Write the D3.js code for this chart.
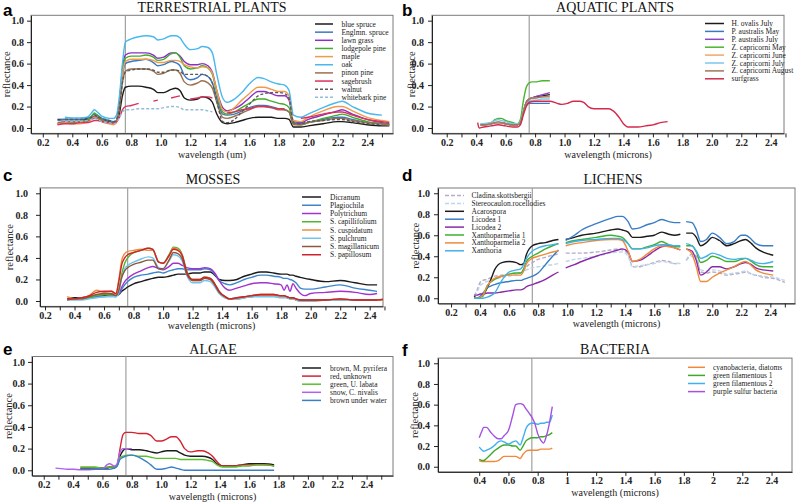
<!DOCTYPE html>
<html><head><meta charset="utf-8">
<script src="https://cdn.jsdelivr.net/npm/d3@7"></script>
<style>body{margin:0;background:#fff}svg{display:block}</style>
</head><body><svg id="chart" width="800" height="503"></svg>
<script>
// ---------------- shared ticks ----------------
const yTicks = [0, 0.2, 0.4, 0.6, 0.8, 1.0];
const xTickLabels = [0.2,0.4,0.6,0.8,1.0,1.2,1.4,1.6,1.8,2.0,2.2,2.4];
const xMinorTicks = [0.2,0.3,0.4,0.5,0.6,0.7,0.8,0.9,1.0,1.1,1.2,1.3,1.4,1.5,1.6,1.7,1.8,1.9,2.0,2.1,2.2,2.3,2.4,2.5];
const bacteriaTickLabels = [0.4,0.6,0.8,1,1.2,1.4,1.6,1.8,2,2.2,2.4];
const redEdge = 0.76;

// ---------------- a: terrestrial plants ----------------
const terrestrialNames = ["blue spruce","Englmn. spruce","lawn grass","lodgepole pine","maple","oak","pinon pine","sagebrush","walnut","whitebark pine"];
const terrestrialWl = [0.3,0.35,0.4,0.45,0.5,0.53,0.55,0.57,0.6,0.65,0.68,0.7,0.72,0.74,0.76,0.8,0.85,0.9,0.95,0.98,1.02,1.07,1.1,1.13,1.16,1.2,1.25,1.28,1.32,1.35,1.38,1.42,1.45,1.5,1.55,1.6,1.66,1.7,1.75,1.8,1.84,1.87,1.9,1.95,2.0,2.1,2.2,2.23,2.3,2.4,2.5,2.55];
const blueSpruce = [0.08,0.08,0.08,0.08,0.08,0.09,0.1,0.1,0.08,0.06,0.05,0.06,0.14,0.3,0.38,0.39,0.39,0.38,0.36,0.33,0.33,0.36,0.37,0.35,0.28,0.26,0.27,0.29,0.28,0.24,0.13,0.05,0.04,0.05,0.07,0.09,0.1,0.1,0.1,0.09,0.09,0.08,0.01,0.01,0.02,0.04,0.06,0.06,0.05,0.03,0.02,0.02];
const englmnSpruce = [0.07,0.08,0.08,0.08,0.09,0.11,0.13,0.12,0.09,0.07,0.06,0.07,0.22,0.48,0.6,0.62,0.63,0.64,0.61,0.58,0.59,0.62,0.61,0.58,0.49,0.45,0.47,0.5,0.48,0.42,0.28,0.13,0.12,0.13,0.16,0.19,0.21,0.21,0.2,0.18,0.17,0.15,0.04,0.04,0.05,0.08,0.1,0.1,0.08,0.05,0.04,0.03];
const lawnGrass = [0.04,0.05,0.05,0.05,0.06,0.09,0.11,0.1,0.07,0.05,0.04,0.06,0.25,0.55,0.68,0.7,0.7,0.7,0.68,0.65,0.66,0.7,0.7,0.67,0.62,0.59,0.59,0.6,0.58,0.52,0.35,0.19,0.16,0.18,0.22,0.28,0.34,0.34,0.32,0.3,0.3,0.26,0.06,0.05,0.08,0.12,0.16,0.17,0.13,0.08,0.05,0.04];
const lodgepolePine = [0.04,0.05,0.05,0.06,0.07,0.11,0.14,0.12,0.08,0.05,0.04,0.06,0.25,0.52,0.65,0.67,0.67,0.68,0.66,0.63,0.64,0.69,0.7,0.66,0.58,0.55,0.56,0.58,0.56,0.5,0.33,0.15,0.13,0.15,0.19,0.23,0.27,0.27,0.25,0.23,0.22,0.19,0.04,0.03,0.05,0.09,0.12,0.13,0.1,0.06,0.04,0.03];
const maple = [0.04,0.05,0.04,0.04,0.05,0.08,0.1,0.09,0.06,0.04,0.03,0.05,0.25,0.5,0.62,0.64,0.64,0.64,0.63,0.61,0.61,0.63,0.63,0.62,0.59,0.57,0.56,0.57,0.56,0.51,0.35,0.17,0.15,0.19,0.26,0.32,0.38,0.38,0.36,0.34,0.34,0.3,0.07,0.06,0.1,0.16,0.2,0.2,0.16,0.1,0.07,0.06];
const oak = [null,0.1,0.095,0.095,0.1,0.14,0.17,0.15,0.11,0.09,0.09,0.12,0.3,0.6,0.8,0.83,0.85,0.86,0.85,0.82,0.83,0.86,0.86,0.84,0.78,0.73,0.74,0.76,0.75,0.7,0.5,0.28,0.24,0.27,0.33,0.41,0.47,0.46,0.43,0.41,0.4,0.35,0.12,0.1,0.13,0.19,0.24,0.25,0.2,0.14,0.12,null];
const pinonPine = [0.05,0.06,0.06,0.06,0.07,0.08,0.09,0.09,0.07,0.05,0.05,0.06,0.18,0.42,0.53,0.55,0.55,0.55,0.53,0.5,0.51,0.54,0.54,0.51,0.43,0.4,0.42,0.44,0.42,0.37,0.24,0.1,0.09,0.11,0.14,0.17,0.2,0.2,0.19,0.17,0.17,0.15,0.03,0.03,0.05,0.07,0.09,0.09,0.07,0.05,0.04,0.03];
const sagebrush = [0.03,0.04,0.04,0.05,0.05,0.06,0.07,0.07,0.06,0.05,0.05,0.06,0.1,0.17,0.2,0.21,0.23,null,0.25,0.26,null,0.28,0.29,0.3,null,0.27,0.28,0.29,0.29,0.28,null,null,0.14,0.15,0.17,0.18,0.2,0.2,0.19,0.18,0.18,null,null,0.09,0.1,0.13,0.15,0.15,0.12,0.08,0.06,0.05];
const walnut = [null,0.08,0.08,0.08,0.09,0.1,0.12,0.11,0.09,0.07,0.06,0.08,0.2,0.42,0.52,0.54,0.55,0.55,0.54,0.52,0.52,0.54,0.54,0.53,0.5,0.5,0.5,0.5,0.48,0.42,0.25,0.06,0.05,0.08,0.15,0.22,0.3,0.32,0.33,0.33,0.32,0.28,0.05,0.04,0.06,0.07,0.08,0.08,0.06,0.04,0.03,null];
const whitebarkPine = [null,0.06,0.06,0.06,0.07,0.08,0.09,0.08,0.06,0.05,0.04,0.05,0.1,0.15,0.17,0.17,0.18,0.18,0.18,0.18,0.19,0.2,0.2,0.19,0.17,0.17,0.17,0.17,0.16,0.15];
const terrestrialColors = ["#1b1b1b","#3a78c2","#8f2fc4","#42ad2c","#f09a4c","#49b8ef","#9c6f4e","#d8325c","#5a5a5a","#94bcd8"];
const terrestrialDash = [null,null,null,null,null,null,null,null,"3,2","3,2"];

// ---------------- b: aquatic plants ----------------
const aquaticNames = ["H. ovalis July","P. australis May","P. australis July","Z. capricorni May","Z. capricorni June","Z. capricorni July","Z. capricorni August","surfgrass"];
const aquaticWl = [0.43,0.45,0.5,0.53,0.55,0.57,0.6,0.65,0.68,0.7,0.72,0.74,0.76,0.78,0.8,0.85,0.9];
const hOvalisJuly = [0.03,0.03,0.04,0.05,0.05,0.05,0.04,0.03,0.03,0.05,0.15,0.24,0.27,0.28,0.29,0.3,0.31];
const pAustralisMay = [0.03,0.03,0.04,0.05,0.05,0.05,0.04,0.03,0.03,0.05,0.14,0.21,0.23,0.23,0.23,0.23,0.23];
const pAustralisJuly = [0.03,0.03,0.04,0.05,0.05,0.05,0.04,0.03,0.03,0.05,0.15,0.24,0.27,0.28,0.29,0.31,0.33];
const zCapMay = [0.04,0.04,0.05,0.08,0.09,0.09,0.07,0.05,0.04,0.08,0.25,0.38,0.42,0.43,0.43,0.44,0.44];
const zCapJune = [0.03,0.03,0.04,0.05,0.05,0.05,0.04,0.03,0.03,0.05,0.15,0.24,0.27,0.28,0.28,0.29,0.3];
const zCapJuly = [0.04,0.04,0.05,0.07,0.08,0.07,0.06,0.04,0.04,0.06,0.16,0.23,0.25,0.26,0.26,0.27,0.27];
const zCapAugust = [0.03,0.03,0.04,0.05,0.06,0.05,0.04,0.03,0.03,0.05,0.15,0.24,0.27,0.28,0.28,0.29,0.29];
const surfgrassWl = [0.41,0.42,0.45,0.5,0.55,0.6,0.65,0.68,0.7,0.72,0.74,0.76,0.8,0.85,0.9,0.95,0.98,1.02,1.06,1.1,1.13,1.16,1.2,1.25,1.3,1.33,1.37,1.4,1.43,1.5,1.55,1.6,1.65,1.7];
const surfgrass = [0.05,0.0,0.01,0.02,0.03,0.02,0.01,0.01,0.03,0.12,0.2,0.24,0.25,0.25,0.25,0.23,0.22,0.23,0.25,0.25,0.24,0.2,0.18,0.18,0.18,0.16,0.1,0.04,0.01,0.01,0.02,0.03,0.05,0.06];
const aquaticColors = ["#1b1b1b","#3a78c2","#8f44c6","#4cb52e","#f0a868","#7cc6ee","#9e7858","#d42a4c"];

// ---------------- c: mosses ----------------
const mossNames = ["Dicranum","Plagiochila","Polytrichum","S. capillifolium","S. cuspidatum","S. pulchrum","S. magillanicum","S. papillosum"];
const mossWl = [0.35,0.4,0.45,0.5,0.55,0.6,0.65,0.68,0.7,0.72,0.74,0.76,0.8,0.85,0.9,0.93,0.97,1.0,1.04,1.07,1.1,1.13,1.16,1.2,1.25,1.28,1.32,1.35,1.38,1.42,1.45,1.5,1.55,1.6,1.66,1.7,1.75,1.8,1.82,1.84,1.86,1.88,1.9,1.93,1.96,2.0,2.1,2.2,2.3,2.4,2.45,2.5];
const dicranum = [0.02,0.03,0.03,0.04,0.04,0.05,0.05,0.05,0.06,0.09,0.11,0.13,0.16,0.18,0.2,0.21,0.22,0.22,0.23,0.24,0.25,0.25,0.25,0.26,0.26,0.27,0.27,0.24,0.2,0.19,0.19,0.2,0.23,0.25,0.27,0.27,0.26,0.25,0.25,0.25,0.24,0.24,0.23,0.22,0.21,0.2,0.18,0.19,0.17,0.15,0.15,null];
const plagiochila = [0.01,0.02,0.02,0.03,0.04,0.04,0.05,0.05,0.06,0.11,0.15,0.18,0.22,0.24,0.25,0.26,0.27,0.26,0.28,0.29,0.3,0.3,0.29,0.29,0.29,0.3,0.29,0.25,0.19,0.16,0.15,0.17,0.2,0.22,0.24,0.24,0.23,0.22,0.21,0.21,0.2,0.19,0.17,0.12,0.11,0.11,0.13,0.15,0.12,0.1,0.09,null];
const polytrichum = [0.02,0.02,0.03,0.04,0.05,0.06,0.06,0.05,0.07,0.13,0.18,0.21,0.25,0.28,0.31,0.32,0.3,0.29,0.32,0.35,0.35,0.33,0.31,0.3,0.3,0.31,0.3,0.26,0.19,0.12,0.1,0.12,0.14,0.16,0.17,0.17,0.16,0.15,0.1,0.15,0.09,0.16,0.12,0.07,0.05,0.07,0.08,0.09,0.08,0.06,0.07,null];
const sCapillifolium = [0.01,0.02,0.02,0.03,0.05,0.06,0.05,0.04,0.1,0.25,0.35,0.4,0.45,0.47,0.49,0.48,0.36,0.35,0.43,0.5,0.49,0.43,0.28,0.2,0.2,0.22,0.21,0.16,0.09,0.04,0.02,0.02,0.03,0.04,0.05,0.05,0.05,0.04,0.04,0.03,0.02,0.02,0.01,0.01,0.0,0.0,0.01,0.01,0.01,0.01,0.01,0.01];
const sCuspidatum = [0.04,0.02,0.03,0.05,0.1,0.08,0.09,0.06,0.2,0.38,0.44,0.46,0.47,0.48,0.47,0.47,0.36,0.35,0.42,0.49,0.48,0.42,0.26,0.19,0.19,0.21,0.2,0.15,0.08,0.03,0.02,0.02,0.03,0.04,0.05,0.05,0.05,0.04,0.04,0.03,0.02,0.02,0.01,0.0,0.0,0.0,0.01,0.01,0.01,0.01,0.01,0.01];
const sPulchrum = [0.01,0.01,0.01,0.02,0.03,0.04,0.04,0.04,0.08,0.22,0.3,0.33,0.36,0.39,0.41,0.4,0.31,0.3,0.37,0.43,0.42,0.37,0.24,0.17,0.17,0.19,0.18,0.13,0.07,0.03,0.02,0.02,0.03,0.04,0.04,0.04,0.04,0.03,0.03,0.03,0.02,0.02,0.01,0.0,0.0,0.0,0.01,0.01,0.01,0.01,0.01,null];
const sMagillanicum = [0.01,0.02,0.02,0.04,0.06,0.07,0.07,0.05,0.1,0.22,0.28,0.31,0.34,0.36,0.38,0.38,0.3,0.3,0.38,0.45,0.44,0.39,0.25,0.19,0.19,0.21,0.2,0.15,0.08,0.04,0.02,0.03,0.04,0.05,0.06,0.06,0.06,0.05,0.05,0.04,0.03,0.03,0.02,0.01,0.01,0.01,0.01,0.02,0.01,0.01,0.01,null];
const sPapillosum = [0.02,0.02,0.03,0.05,0.08,0.09,0.09,0.07,0.18,0.34,0.4,0.43,0.45,0.47,0.49,0.48,0.36,0.35,0.42,0.48,0.47,0.42,0.27,0.2,0.2,0.22,0.21,0.16,0.09,0.04,0.02,0.03,0.04,0.05,0.06,0.06,0.06,0.05,0.05,0.04,0.03,0.03,0.02,0.01,0.01,0.01,0.01,0.02,0.01,0.01,0.01,0.02];
const mossColors = ["#1b1b1b","#3d86cc","#a333cf","#4db82e","#f08c3c","#72c4ef","#8a5a3a","#d0222c"];

// ---------------- d: lichens ----------------
const lichenNames = ["Cladina.skottsbergii","Stereocaulon.rocellodies","Acarospora","Licodea 1","Licodea 2","Xanthoparmelia 1","Xanthoparmelia 2","Xanthoria"];
const lichenWl = [0.36,0.38,0.4,0.42,0.45,0.48,0.5,0.55,0.6,0.65,0.68,0.7,0.72,0.76,0.8,0.85,0.9,0.94,0.96,0.99,1.05,1.1,1.2,1.3,1.35,1.38,1.42,1.45,1.5,1.55,1.6,1.65,1.7,1.74,1.78,1.8,1.82,1.86,1.89,1.92,1.96,2.0,2.05,2.1,2.15,2.2,2.23,2.27,2.3,2.35,2.42,2.5];
const cladina = [0.02,0.08,0.15,0.17,0.18,0.2,0.21,0.22,0.23,0.24,0.24,0.26,0.3,0.34,0.37,0.39,0.41,0.42,null,0.43,0.43,0.43,0.44,0.46,0.47,0.46,0.42,0.3,0.3,0.32,0.34,0.36,0.35,0.33,0.33,null,0.36,0.42,0.4,0.25,0.24,0.25,0.24,0.22,0.23,0.24,0.25,0.23,0.22,0.2,0.19,0.15];
const stereocaulon = [0.02,0.06,0.12,0.14,0.16,0.17,0.18,0.2,0.21,0.23,0.24,0.25,0.27,0.29,0.3,0.31,0.32,0.33,null,0.35,0.37,0.38,0.4,0.43,0.44,0.44,0.4,0.3,0.31,0.32,0.33,0.35,0.34,0.33,0.34,null,0.36,0.4,0.38,0.27,0.26,0.27,0.26,0.23,0.24,0.25,0.26,0.23,0.22,0.21,0.2,0.17];
const acarospora = [0.02,0.0,0.01,0.03,0.1,0.2,0.27,0.34,0.35,0.34,0.32,0.33,0.42,0.5,0.52,0.53,0.55,0.56,null,0.56,0.58,0.6,0.62,0.65,0.66,0.65,0.63,0.58,0.58,0.59,0.6,0.63,0.61,0.6,0.61,null,0.62,0.62,0.58,0.5,0.53,0.58,0.55,0.5,0.52,0.55,0.56,0.52,0.48,0.44,0.41,null];
const licodea1 = [0.01,0.0,0.02,0.05,0.1,0.12,0.13,0.15,0.16,0.17,0.17,0.18,0.19,0.21,0.24,0.32,0.4,0.46,null,0.55,0.6,0.65,0.71,0.76,0.78,0.78,0.73,0.66,0.67,0.7,0.72,0.75,0.73,0.72,0.72,null,0.73,0.72,0.65,0.54,0.56,0.62,0.58,0.52,0.54,0.6,0.6,0.56,0.52,0.5,0.5,null];
const licodea2 = [0.03,0.03,0.04,0.04,0.05,0.05,0.05,0.06,0.07,0.08,0.08,0.09,0.11,0.13,0.15,0.18,0.22,0.25,null,0.29,0.32,0.35,0.4,0.44,0.46,0.47,0.44,0.35,0.36,0.4,0.45,0.49,0.5,0.48,0.46,null,0.47,0.45,0.36,0.22,0.25,0.3,0.3,0.28,0.3,0.33,0.34,0.32,0.29,0.27,0.26,null];
const xanthoparmelia1 = [0.0,0.0,0.01,0.02,0.12,0.16,0.18,0.21,0.23,0.24,0.24,0.28,0.35,0.4,0.43,0.47,0.5,0.52,null,0.53,0.55,0.56,0.58,0.6,0.59,0.58,0.52,0.47,0.47,0.49,0.51,0.54,0.51,0.49,0.49,null,0.5,0.5,0.44,0.34,0.36,0.4,0.38,0.35,0.35,0.37,0.38,0.35,0.32,0.3,0.3,null];
const xanthoparmelia2 = [0.0,0.0,0.01,0.03,0.12,0.17,0.19,0.21,0.22,0.22,0.22,0.26,0.33,0.38,0.4,0.42,0.44,0.45,null,0.5,0.52,0.53,0.55,0.56,0.56,0.55,0.45,0.35,0.37,0.42,0.47,0.5,0.49,0.48,0.46,null,0.47,0.42,0.3,0.16,0.16,0.2,0.24,0.27,0.3,0.34,0.35,0.31,0.27,0.24,0.22,null];
const xanthoria = [0.0,0.0,0.0,0.0,0.01,0.03,0.05,0.17,0.25,0.27,0.28,0.32,0.38,0.45,0.48,0.5,0.51,0.52,null,0.52,0.54,0.55,0.56,0.57,0.57,0.56,0.52,0.47,0.47,0.48,0.5,0.51,0.51,0.5,0.5,null,0.52,0.5,0.45,0.38,0.4,0.43,0.41,0.38,0.37,0.38,0.38,0.36,0.34,0.33,0.35,null];
const lichenColors = ["#b8aac8","#bcd6ea","#1b1b1b","#3a7dc6","#8a2aa8","#3eb032","#f08a3c","#42b0e8"];
const lichenDash = ["4,2","4,2",null,null,null,null,null,null];

// ---------------- e: algae ----------------
const algaeNames = ["brown, M. pyrifera","red, unknown","green, U. labata","snow, C. nivalis","brown under water"];
const algaeWl = [0.28,0.32,0.36,0.4,0.45,0.5,0.55,0.6,0.63,0.65,0.68,0.7,0.72,0.74,0.76,0.8,0.85,0.9,0.93,0.97,1.0,1.04,1.07,1.1,1.13,1.16,1.2,1.25,1.28,1.32,1.35,1.38,1.42,1.45,1.5,1.55,1.6,1.65,1.7,1.77];
const brownPyrifera = [null,null,null,null,0.02,0.02,0.02,0.02,0.02,0.03,0.02,0.04,0.13,0.18,0.2,0.19,0.19,0.18,0.17,0.16,0.17,0.18,0.18,0.18,0.16,0.14,0.13,0.13,0.13,0.12,0.1,0.06,0.04,0.04,0.04,0.05,0.06,0.06,0.06,0.05];
const redUnknown = [null,null,null,null,0.02,0.02,0.02,0.02,0.02,0.03,0.03,0.05,0.2,0.33,0.35,0.35,0.34,0.34,0.32,0.27,0.27,0.29,0.31,0.31,0.27,0.2,0.17,0.18,0.18,0.16,0.13,0.08,0.04,0.04,0.04,0.05,0.05,0.05,0.05,0.04];
const greenLabata = [null,null,null,null,0.03,0.03,0.03,0.02,0.03,0.03,0.03,0.05,0.12,0.13,0.14,0.14,0.13,0.13,0.12,0.11,0.11,0.11,0.11,0.11,0.1,0.1,0.1,0.1,0.1,0.09,0.08,0.05,0.03,0.03,0.03,0.04,0.04,0.05,0.05,0.04];
const snowNivalis = [0.02,0.015,0.01,0.01,0.005,0.005,0.01,0.01,0.05,0.06,0.04,0.06,0.17,0.2,0.2,0.2];
const brownUnderWater = [null,null,null,null,0.01,0.01,0.01,0.01,0.01,0.01,0.02,0.04,0.1,0.12,0.13,0.14,0.12,0.08,0.05,0.01,0.01,0.02,0.03,0.02,0.01,0.0,0.0,0.0,0.0,0.0,0.0,0.0,0.0,0.0,0.0,0.0,0.0,0.0,0.0,0.0];
const algaeColors = ["#1b1b1b","#d42232","#5abf30","#b45ef2","#3a80c8"];

// ---------------- f: bacteria ----------------
const bacteriaNames = ["cyanobacteria, diatoms","green filamentous 1","green filamentous 2","purple sulfur bacteria"];
const bacteriaWl = [0.4,0.42,0.43,0.45,0.48,0.5,0.53,0.55,0.57,0.6,0.63,0.65,0.68,0.7,0.72,0.74,0.76,0.78,0.8,0.82,0.84,0.86,0.88,0.9];
const cyanobacteria = [0.06,0.05,0.05,0.05,0.05,0.05,0.06,0.08,0.1,0.1,0.1,0.1,0.08,0.12,0.15,0.16,0.16,0.16,0.16,0.17,0.17,0.17,0.17,0.18];
const greenFilamentous1 = [0.07,0.06,0.06,0.08,0.12,0.15,0.18,0.2,0.21,0.21,0.2,0.2,0.16,0.2,0.25,0.27,0.28,0.28,0.28,0.29,0.29,0.3,0.31,0.33];
const greenFilamentous2 = [0.19,0.16,0.15,0.16,0.18,0.2,0.24,0.25,0.24,0.22,0.24,0.25,0.21,0.28,0.37,0.41,0.42,0.42,0.41,0.42,0.42,0.43,0.43,0.5];
const purpleSulfur = [0.28,0.35,0.38,0.38,0.33,0.3,0.27,0.27,0.3,0.35,0.5,0.6,0.61,0.6,0.56,0.52,0.48,0.42,0.32,0.26,0.23,0.3,0.42,0.58];
const bacteriaColors = ["#f08a3a","#3caa2a","#40b0f0","#a452e2"];

// ---------------- layout ----------------
const svg = d3.select("#chart");
const serif = "'Liberation Serif','Times New Roman',serif";
const fmt1 = d3.format(".1f");

const panels = [
  {letter:"a", title:"TERRESTRIAL PLANTS", xlabel:"wavelength (um)", l:31,t:15.3,r:393,b:133.4, xd:[0.12,2.575],
   lx:3, ly:16, tx:212, ty:12, axy:157.5, ylx:10, ypad:3,
   names:terrestrialNames, wl:Array(10).fill(terrestrialWl),
   series:[blueSpruce,englmnSpruce,lawnGrass,lodgepolePine,maple,oak,pinonPine,sagebrush,walnut,whitebarkPine],
   colors:terrestrialColors, dash:terrestrialDash,
   leg:{x1:315,x2:333,tx:341.5,y0:24,dy:8.15}},
  {letter:"b", title:"AQUATIC PLANTS", xlabel:"wavelength (microns)", l:432,t:15.3,r:784,b:133.4, xd:[0.1,2.49],
   lx:402, ly:16, tx:615, ty:12, axy:157.5, ylx:415, ypad:4,
   names:aquaticNames, wl:[aquaticWl,aquaticWl,aquaticWl,aquaticWl,aquaticWl,aquaticWl,aquaticWl,surfgrassWl],
   series:[hOvalisJuly,pAustralisMay,pAustralisJuly,zCapMay,zCapJune,zCapJuly,zCapAugust,surfgrass],
   colors:aquaticColors, dash:Array(8).fill(null),
   leg:{x1:705,x2:724,tx:731.5,y0:23.5,dy:7.9}},
  {letter:"c", title:"MOSSES", xlabel:"wavelength (microns)", l:40,t:187.9,r:383,b:306.4, xd:[0.166,2.49],
   lx:3, ly:181, tx:213, ty:184, axy:329, ylx:13, ypad:8,
   names:mossNames, wl:Array(8).fill(mossWl),
   series:[dicranum,plagiochila,polytrichum,sCapillifolium,sCuspidatum,sPulchrum,sMagillanicum,sPapillosum],
   colors:mossColors, dash:Array(8).fill(null),
   leg:{x1:302,x2:321,tx:330,y0:197,dy:8.25}},
  {letter:"d", title:"LICHENS", xlabel:"wavelength (microns)", l:438,t:188,r:795,b:303.5, xd:[0.11,2.57],
   lx:402, ly:181, tx:613, ty:184, axy:326.8, ylx:419, ypad:4,
   names:lichenNames, wl:Array(8).fill(lichenWl),
   series:[cladina,stereocaulon,acarospora,licodea1,licodea2,xanthoparmelia1,xanthoparmelia2,xanthoria],
   colors:lichenColors, dash:lichenDash,
   leg:{x1:445,x2:464,tx:471.5,y0:195.5,dy:7.9}},
  {letter:"e", title:"ALGAE", xlabel:"wavelength (microns)", l:32,t:356.5,r:393,b:475.7, xd:[0.12,2.58],
   lx:3, ly:355, tx:213, ty:353.5, axy:500, ylx:12, ypad:3,
   names:algaeNames, wl:Array(5).fill(algaeWl),
   series:[brownPyrifera,redUnknown,greenLabata,snowNivalis,brownUnderWater],
   colors:algaeColors, dash:Array(5).fill(null),
   leg:{x1:302,x2:321,tx:330,y0:368,dy:8.1}},
  {letter:"f", title:"BACTERIA", xlabel:"wavelength (microns)", l:438,t:358.1,r:792,b:471.9, xd:[0.118,2.54],
   lx:402, ly:356, tx:615, ty:354, axy:495.5, ylx:418, ypad:4, bacteria:true,
   names:bacteriaNames, wl:Array(4).fill(bacteriaWl),
   series:[cyanobacteria,greenFilamentous1,greenFilamentous2,purpleSulfur],
   colors:bacteriaColors, dash:Array(4).fill(null),
   leg:{x1:688,x2:705,tx:713,y0:367.3,dy:8.1}}
];

panels.forEach((p, pi) => {
  const g = svg.append("g");
  const x = d3.scaleLinear().domain(p.xd).range([p.l, p.r]);
  const y = d3.scaleLinear().domain([-0.05, 1.05]).range([p.b, p.t]);

  g.append("rect").attr("x", p.l).attr("y", p.t).attr("width", p.r - p.l).attr("height", p.b - p.t)
    .attr("fill", "none").attr("stroke", "#7a7a7a").attr("stroke-width", 1);

  const cid = "clip" + pi;
  g.append("clipPath").attr("id", cid).append("rect")
    .attr("x", p.l).attr("y", p.t).attr("width", p.r - p.l).attr("height", p.b - p.t);

  g.append("line").attr("x1", x(redEdge)).attr("x2", x(redEdge)).attr("y1", p.t).attr("y2", p.b)
    .attr("stroke", "#a0a0a0").attr("stroke-width", 1.2);

  const line = d3.line().defined(d => d[1] != null)
    .x(d => x(d[0])).y(d => y(d[1])).curve(d3.curveMonotoneX);
  const lines = g.append("g").attr("clip-path", `url(#${cid})`);
  p.series.forEach((vals, i) => {
    const wl = p.wl[i];
    const pts = vals.map((v, j) => [wl[j], v]).filter(d => d[0] != null);
    lines.append("path").datum(pts).attr("d", line)
      .attr("fill", "none").attr("stroke", p.colors[i]).attr("stroke-width", 1.4)
      .attr("stroke-linejoin", "round")
      .attr("stroke-dasharray", p.dash[i]);
  });

  let xAxis;
  if (p.bacteria) {
    xAxis = d3.axisBottom(x).tickValues(bacteriaTickLabels)
      .tickFormat(d => Number.isInteger(d) ? String(d) : fmt1(d));
  } else {
    xAxis = d3.axisBottom(x).tickValues(xMinorTicks)
      .tickFormat(d => xTickLabels.some(v => Math.abs(v - d) < 1e-6) ? fmt1(d) : "");
  }
  xAxis.tickSize(4).tickSizeOuter(0).tickPadding(1.5);
  const gx = g.append("g").attr("transform", `translate(0,${p.b})`).call(xAxis);
  const gy = g.append("g").attr("transform", `translate(${p.l},0)`)
    .call(d3.axisLeft(y).tickValues(yTicks).tickFormat(fmt1).tickSize(4).tickSizeOuter(0).tickPadding(p.ypad));
  [gx, gy].forEach(ax => {
    ax.select(".domain").attr("stroke", "#222");
    ax.selectAll(".tick line").attr("stroke", "#222");
    ax.selectAll("text").attr("font-family", serif).attr("font-size", 10)
      .attr("font-weight", "bold").attr("fill", "#222");
  });

  g.append("text").attr("x", p.tx).attr("y", p.ty).attr("text-anchor", "middle")
    .attr("font-family", serif).attr("font-size", 14).attr("fill", "#111").text(p.title);
  g.append("text").attr("x", p.lx).attr("y", p.ly)
    .attr("font-family", "'Liberation Sans',Arial,sans-serif").attr("font-weight", "bold")
    .attr("font-size", 17).attr("fill", "#000").text(p.letter);
  g.append("text").attr("x", (p.l + p.r) / 2).attr("y", p.axy).attr("text-anchor", "middle")
    .attr("font-family", serif).attr("font-size", 10).attr("fill", "#222").text(p.xlabel);
  g.append("text").attr("transform", `translate(${p.ylx},${(p.t + p.b) / 2}) rotate(-90)`)
    .attr("text-anchor", "middle").attr("font-family", serif).attr("font-size", 10.5)
    .attr("fill", "#222").text("reflectance");

  const lg = g.append("g");
  p.names.forEach((name, i) => {
    const yy = p.leg.y0 + i * p.leg.dy;
    lg.append("line").attr("x1", p.leg.x1).attr("x2", p.leg.x2).attr("y1", yy).attr("y2", yy)
      .attr("stroke", p.colors[i]).attr("stroke-width", 1.5).attr("stroke-dasharray", p.dash[i]);
    lg.append("text").attr("x", p.leg.tx).attr("y", yy + 2.5)
      .attr("font-family", serif).attr("font-size", 7.5).attr("fill", "#222").text(name);
  });
});
</script></body></html>
